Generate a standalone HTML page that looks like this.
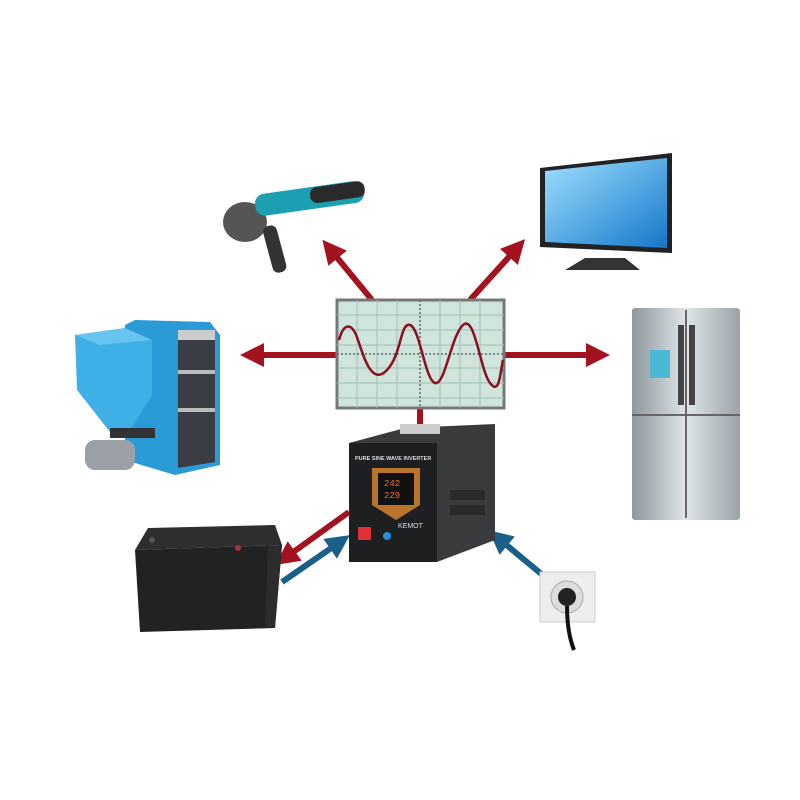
<!DOCTYPE html>
<html><head><style>body{margin:0;background:#fff}svg{display:block}</style></head><body>
<svg width="800" height="800" viewBox="0 0 800 800" xmlns="http://www.w3.org/2000/svg">
<defs>
<marker id="r" markerWidth="4" markerHeight="4" refX="2" refY="2" orient="auto"><path d="M0,0L4,2L0,4z" fill="#a3121f"/></marker>
<marker id="b" markerWidth="4" markerHeight="4" refX="2" refY="2" orient="auto"><path d="M0,0L4,2L0,4z" fill="#1a5f8a"/></marker>
<linearGradient id="fr" x1="0" x2="1"><stop offset="0" stop-color="#8d979d"/><stop offset=".5" stop-color="#dfe5e8"/><stop offset="1" stop-color="#9aa3a8"/></linearGradient>
<linearGradient id="tv" x1="0" y1="0" x2="1" y2="1"><stop offset="0" stop-color="#9fe0ff"/><stop offset="1" stop-color="#1577c9"/></linearGradient>
</defs>
<g stroke="#a3121f" stroke-width="6" fill="none">
<line x1="372" y1="300" x2="330" y2="249" marker-end="url(#r)"/>
<line x1="470" y1="300" x2="517" y2="248" marker-end="url(#r)"/>
<line x1="337" y1="355" x2="252" y2="355" marker-end="url(#r)"/>
<line x1="504" y1="355" x2="598" y2="355" marker-end="url(#r)"/>
<line x1="420" y1="406" x2="420" y2="430"/>
<line x1="349" y1="512" x2="285" y2="558" marker-end="url(#r)"/>
</g>
<g stroke="#1a5f8a" stroke-width="6" fill="none">
<line x1="282" y1="582" x2="340" y2="542" marker-end="url(#b)"/>
<line x1="545" y1="577" x2="498" y2="538" marker-end="url(#b)"/>
</g>
<rect x="337" y="300" width="167" height="108" fill="#cfe5dc" stroke="#777" stroke-width="3"/>
<g stroke="#9fbfb3" stroke-width="1">
<path d="M337,315H504M337,330H504M337,345H504M337,368H504M337,383H504M337,398H504M357,300V408M377,300V408M397,300V408M440,300V408M460,300V408M480,300V408"/>
</g>
<path d="M337,354H504M420,300V408" stroke="#667" stroke-width="1.5" stroke-dasharray="2,2"/>
<path d="M339,340 C344,322 352,322 358,340 S372,386 387,370 S400,322 410,325 S425,380 435,383 S451,336 463,325 S480,370 490,383 S500,372 503,360" stroke="#8a1020" stroke-width="2.5" fill="none"/>
<path d="M349,443 L405,428 L495,424 L495,540 L437,562 Z" fill="#3a3b3d"/>
<rect x="349" y="443" width="88" height="119" fill="#1e1f21"/>
<rect x="400" y="424" width="40" height="10" fill="#ccc"/>
<text x="355" y="460" font-family="Liberation Sans,sans-serif" font-size="5.5" fill="#ddd" font-weight="bold">PURE SINE WAVE INVERTER</text>
<path d="M372,468H420V505L396,520L372,505Z" fill="#b8742a"/>
<rect x="378" y="473" width="36" height="32" fill="#111"/>
<text x="384" y="486" font-family="Liberation Mono,monospace" font-size="9" fill="#f07030">242</text>
<text x="384" y="498" font-family="Liberation Mono,monospace" font-size="9" fill="#f07030">229</text>
<rect x="358" y="527" width="13" height="13" fill="#e0303a"/>
<circle cx="387" cy="536" r="4" fill="#2a8ae0"/>
<text x="398" y="528" font-family="Liberation Sans,sans-serif" font-size="7" fill="#ddd">KEMOT</text>
<rect x="450" y="490" width="35" height="10" fill="#2a2a2c"/><rect x="450" y="505" width="35" height="10" fill="#2a2a2c"/>
<g>
<ellipse cx="245" cy="222" rx="22" ry="20" fill="#555"/>
<rect x="255" y="195" width="110" height="22" rx="10" fill="#1d9fb2" transform="rotate(-8 255 205)"/>
<rect x="268" y="225" width="14" height="48" rx="6" fill="#333" transform="rotate(-15 275 250)"/>
<rect x="310" y="188" width="55" height="16" rx="7" fill="#2a2a2a" transform="rotate(-8 310 195)"/>
</g>
<path d="M540,168 L672,153 L672,253 L540,247 Z" fill="#222"/>
<path d="M545,171 L667,158 L667,248 L545,242 Z" fill="url(#tv)"/>
<path d="M585,258H625L640,270H565Z" fill="#333"/>
<!-- boiler -->
<path d="M125,325 L135,320 L210,322 L220,335 L220,465 L175,475 L125,460Z" fill="#2a9bd6"/>
<path d="M178,330 L215,332 L215,462 L178,468Z" fill="#3a3d44"/>
<rect x="178" y="330" width="37" height="10" fill="#ccc"/>
<path d="M178,372H215M178,410H215" stroke="#bbb" stroke-width="4"/>
<path d="M75,335 L125,328 L152,340 L152,395 L130,430 L110,432 L77,390Z" fill="#3fb0e6"/>
<path d="M75,335 L125,328 L152,340 L100,345Z" fill="#66c4ee"/>
<rect x="110" y="428" width="45" height="10" fill="#333"/>
<rect x="85" y="440" width="50" height="30" rx="10" fill="#9aa0a5"/>
<!-- fridge -->
<rect x="632" y="308" width="108" height="212" rx="3" fill="url(#fr)"/>
<path d="M686,310V518M632,415H740" stroke="#666" stroke-width="2"/>
<rect x="650" y="350" width="20" height="28" fill="#4ab7d6"/>
<rect x="678" y="325" width="6" height="80" fill="#444"/><rect x="689" y="325" width="6" height="80" fill="#444"/>
<!-- battery -->
<path d="M148,528 L275,525 L282,545 L135,550Z" fill="#2e2e2e"/>
<path d="M135,550 L282,545 L275,628 L140,632Z" fill="#222"/>
<path d="M268,546 L282,545 L275,628 L265,626Z" fill="#2c2c2c"/>
<circle cx="152" cy="540" r="3" fill="#555"/><circle cx="238" cy="548" r="3" fill="#a33"/>
<!-- plug -->
<rect x="540" y="572" width="55" height="50" fill="#eee" stroke="#ccc"/>
<circle cx="567" cy="597" r="16" fill="#ddd" stroke="#aaa"/>
<circle cx="567" cy="597" r="9" fill="#222"/>
<path d="M567,606 C567,625 570,640 574,650" stroke="#111" stroke-width="4" fill="none"/>
</svg>
</body></html>
